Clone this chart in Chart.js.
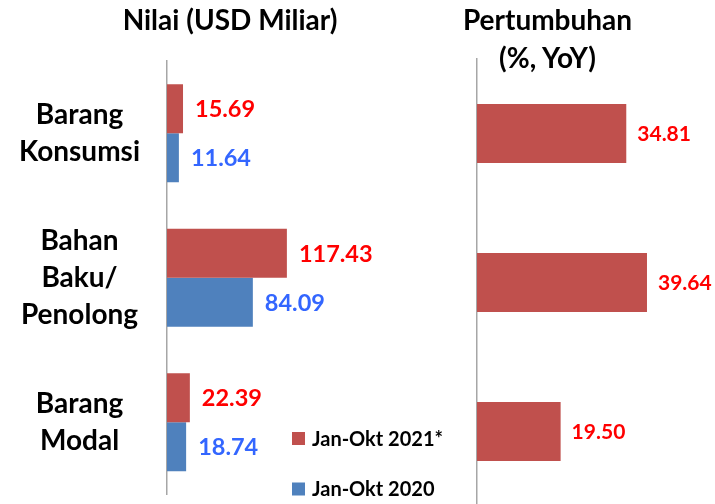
<!DOCTYPE html>
<html>
<head>
<meta charset="utf-8">
<script src="https://cdn.jsdelivr.net/npm/chart.js@4.4.0/dist/chart.umd.min.js"></script>
<style>
body { margin: 0; width: 715px; height: 504px; overflow: hidden; background: #fff; }
.box { position: absolute; top: 0; }
.judul { position: absolute; top: 0; font-family: Lato, sans-serif; font-weight: bold; font-size: 28px; line-height: 38px; text-align: center; color: #000; }
</style>
</head>
<body>
<div class="box" style="left:0; width:460px; height:504px"><canvas id="nilai_chart"></canvas></div>
<div class="box" style="left:380px; width:335px; height:512px"><canvas id="growth_chart"></canvas></div>
<div class="judul" style="left:0; width:460px">Nilai (USD Miliar)</div>
<div class="judul" style="left:380px; width:335px">Pertumbuhan<br>(%, YoY)</div>
<script>
var kategori = [['Barang', 'Konsumsi'], ['Bahan', 'Baku/', 'Penolong'], ['Barang', 'Modal']];
var seriLabel = ['Jan-Okt 2021*', 'Jan-Okt 2020'];
var nilai2021 = [15.69, 117.43, 22.39];
var nilai2020 = [11.64, 84.09, 18.74];
var pertumbuhan = [34.81, 39.64, 19.50];

var merah = "#C0504D";
var biru = "#4F81BD";

// angka di ujung batang
var valueLabels = {
    id: 'valueLabels',
    afterDatasetsDraw: function(chart, args, opts) {
        var ctx = chart.ctx;
        chart.data.datasets.forEach(function(ds, i) {
            var meta = chart.getDatasetMeta(i);
            ctx.save();
            ctx.fillStyle = ds.textColor;
            ctx.font = "bold " + opts.size + "px Lato";
            ctx.textAlign = "left";
            ctx.textBaseline = "middle";
            meta.data.forEach(function(bar, j) {
                ctx.fillText(ds.data[j].toFixed(2), bar.x + opts.offset, bar.y + 1);
            });
            ctx.restore();
        });
    }
};

// legenda di dalam area grafik kiri
var boxLegend = {
    id: 'boxLegend',
    afterDraw: function(chart) {
        var ctx = chart.ctx;
        var x = chart.chartArea.left + 125;
        var y = chart.chartArea.bottom - 56;
        ctx.save();
        ctx.font = "bold 20px Lato";
        ctx.textBaseline = "middle";
        chart.data.datasets.forEach(function(ds, i) {
            var cy = y + i * 50.5;
            ctx.fillStyle = ds.backgroundColor;
            ctx.fillRect(x, cy - 6.5, 13, 13);
            ctx.fillStyle = "#000";
            ctx.fillText(ds.label, x + 20, cy + 1);
        });
        ctx.restore();
    }
};

function fixAxis(width) {
    return function(scale) {
        scale.width = width;
        scale.paddingTop = 0;
        scale.paddingBottom = 0;
    };
}

var ctxNilai = document.getElementById("nilai_chart").getContext("2d");

var nilai_chart = new Chart(ctxNilai, {
    type: 'bar',
    data: {
        labels: kategori,
        datasets: [{
            label: seriLabel[0],
            data: nilai2021,
            backgroundColor: merah,
            textColor: "#FF0000",
            categoryPercentage: 0.678,
            barPercentage: 1
        }, {
            label: seriLabel[1],
            data: nilai2020,
            backgroundColor: biru,
            textColor: "#3366FF",
            categoryPercentage: 0.678,
            barPercentage: 1
        }]
    },
    options: {
        indexAxis: 'y',
        responsive: true,
        maintainAspectRatio: false,
        animation: false,
        layout: { padding: { top: 61, bottom: 9.5, left: 0, right: 0 } },
        plugins: {
            legend: { display: false },
            tooltip: { enabled: false },
            valueLabels: { size: 23.5, offset: 12 }
        },
        scales: {
            x: { display: false, min: 0, max: 287 },
            y: {
                grid: { display: false, drawTicks: false },
                border: { display: true, color: '#A6A6A6', width: 1.5 },
                ticks: {
                    color: '#000',
                    crossAlign: 'center',
                    padding: 27,
                    font: { family: 'Lato', weight: 'bold', size: 28, lineHeight: 1.32 }
                },
                afterFit: fixAxis(167)
            }
        }
    },
    plugins: [valueLabels, boxLegend]
});

var ctxGrowth = document.getElementById("growth_chart").getContext("2d");

var growth_chart = new Chart(ctxGrowth, {
    type: 'bar',
    data: {
        labels: kategori,
        datasets: [{
            label: 'Pertumbuhan',
            data: pertumbuhan,
            backgroundColor: merah,
            textColor: "#FF0000",
            categoryPercentage: 0.396,
            barPercentage: 1
        }]
    },
    options: {
        indexAxis: 'y',
        responsive: true,
        maintainAspectRatio: false,
        animation: false,
        layout: { padding: { top: 59, bottom: 6, left: 0, right: 0 } },
        plugins: {
            legend: { display: false },
            tooltip: { enabled: false },
            valueLabels: { size: 21, offset: 11 }
        },
        scales: {
            x: { display: false, min: 0, max: 55.5 },
            y: {
                grid: { display: false, drawTicks: false },
                border: { display: true, color: '#A6A6A6', width: 1.5 },
                ticks: { display: false },
                afterFit: fixAxis(97)
            }
        }
    },
    plugins: [valueLabels]
});
</script>
</body>
</html>
